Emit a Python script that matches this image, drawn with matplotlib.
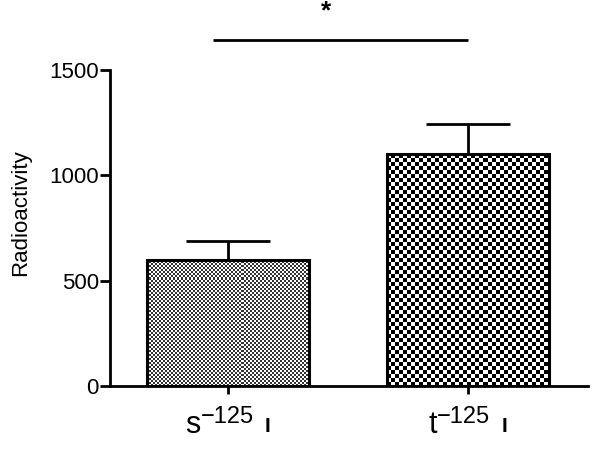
import numpy as np
import matplotlib
matplotlib.use("Agg")
import matplotlib.pyplot as plt
from matplotlib.transforms import ScaledTranslation

# ---- data ----
categories = ["s", "t"]
superscript = "\u2212125"
suffix = "I"
values = [600, 1100]
errors_up = [90, 145]
y_ticks = [0, 500, 1000, 1500]
y_label = "Radioactivity"
sig_text = "*"

plt.rcParams['font.family'] = ['Liberation Sans', 'DejaVu Sans']

W, H = 593, 449
fig = plt.figure(figsize=(W / 100, H / 100), dpi=100)
ax = fig.add_axes([110 / W, 1 - 386 / H, 478 / W, 316 / H])

x = np.arange(len(categories))
ax.set_xlim(-0.49, 1.5)
ax.set_ylim(0, 1500)

bars = ax.bar(x, values, width=0.675, facecolor='none', edgecolor='black',
              linewidth=2.2, zorder=3)
ax.errorbar(x, values, yerr=[[0] * len(values), errors_up], fmt='none',
            ecolor='black', elinewidth=2.0, capsize=30, capthick=2.0, zorder=4)

# checkerboard fills clipped to the bars
cells_px = [2, 4]
dark_levels = [0.2, 0.0]
fig.canvas.draw()
for bar, c, dk in zip(bars, cells_px, dark_levels):
    x0, y0 = bar.get_x(), bar.get_y()
    bw, bh = bar.get_width(), bar.get_height()
    p0 = ax.transData.transform((x0, y0))
    p1 = ax.transData.transform((x0 + bw, y0 + bh))
    wpx, hpx = p1[0] - p0[0], p1[1] - p0[1]
    nx = int(np.ceil(wpx / c)) + 1
    ny = int(np.ceil(hpx / c)) + 1
    ii, jj = np.indices((ny, nx))
    board = np.where((ii + jj) % 2 == 0, dk, 1.0)
    dx = bw / wpx * c
    dy = bh / hpx * c
    im = ax.imshow(board, cmap='gray', vmin=0, vmax=1, interpolation='nearest',
                   extent=(x0, x0 + nx * dx, y0, y0 + ny * dy), origin='lower',
                   aspect='auto', zorder=2)
    im.set_clip_path(bar)

ax.set_xlim(-0.49, 1.5)
ax.set_ylim(0, 1500)

# significance bar
ax.plot([-0.06, 1.0], [1643, 1643], color='black', lw=2.0, clip_on=False,
        solid_capstyle='butt')
ax.text(0.41, 1745, sig_text, ha='center', va='baseline', fontsize=19,
        fontweight='bold', clip_on=False)

for s in ['top', 'right']:
    ax.spines[s].set_visible(False)
for s in ['left', 'bottom']:
    ax.spines[s].set_linewidth(2.0)

ax.set_yticks(y_ticks)
ax.set_yticklabels([str(v) for v in y_ticks], fontsize=16)
ax.tick_params(axis='y', length=7, width=2.0, pad=1)
ax.tick_params(axis='x', length=6, width=2.0, pad=11.5)

ax.set_xticks(x)
ax.set_xticklabels(categories, fontsize=22)

sups, sfx = [], []
for xi in x:
    sups.append(ax.annotate(superscript, xy=(xi, 0), xycoords='data',
                            xytext=(0, -37), textcoords='offset pixels',
                            ha='left', va='baseline', fontsize=17,
                            annotation_clip=False))
    sfx.append(ax.annotate(suffix, xy=(xi, 0), xycoords='data',
                           xytext=(0, -46), textcoords='offset pixels',
                           ha='left', va='baseline', fontsize=15,
                           fontweight='bold', annotation_clip=False))

fig.canvas.draw()
renderer = fig.canvas.get_renderer()
gap_px = 11
for lab, sp, sf in zip(ax.get_xticklabels(), sups, sfx):
    wb = lab.get_window_extent(renderer).width
    ws = sp.get_window_extent(renderer).width
    wi = sf.get_window_extent(renderer).width
    total = wb + ws + gap_px + wi
    start = -total / 2
    shift_px = start + wb / 2
    lab.set_transform(lab.get_transform() +
                      ScaledTranslation(shift_px / 100, 0, fig.dpi_scale_trans))
    sp.xyann = (start + wb, -37)
    sf.xyann = (start + wb + ws + gap_px, -46)

ax.set_ylabel(y_label, fontsize=16)
ax.yaxis.set_label_coords(-0.165, 0.549)

fig.savefig("out.png", dpi=100)
